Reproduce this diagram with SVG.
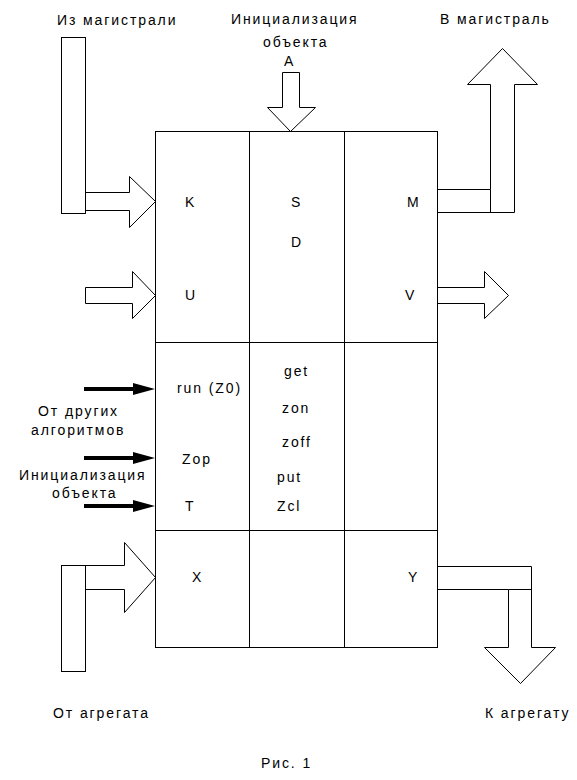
<svg xmlns="http://www.w3.org/2000/svg" width="577" height="780" viewBox="0 0 577 780">
<style>
text{font-family:"Liberation Sans",Arial,sans-serif;font-size:14px;letter-spacing:1.9px;fill:#000}
.ln{fill:none;stroke:#000;stroke-width:1}
.ar{fill:none;stroke:#000;stroke-width:1}
.bk{fill:#000;stroke:none}
</style>
<rect width="577" height="780" fill="#fff"/>
<g id="block">
<rect class="ln" x="155.5" y="131.5" width="282" height="516"/>
<path class="ln" d="M249.5,131.5V647.5M344.5,131.5V647.5M155.5,342.5H437.5M155.5,530.5H437.5"/>
</g>
<g id="cell-labels">
<text x="185" y="207">K</text>
<text x="291" y="207">S</text>
<text x="407" y="207">M</text>
<text x="291" y="247">D</text>
<text x="185" y="300">U</text>
<text x="405" y="300">V</text>
<text x="177" y="393">run (Z0)</text>
<text x="182" y="464">Zop</text>
<text x="185" y="511">T</text>
<text x="284" y="376">get</text>
<text x="282" y="413">zon</text>
<text x="282" y="447">zoff</text>
<text x="277" y="482">put</text>
<text x="277" y="511">Zcl</text>
<text x="192" y="582">X</text>
<text x="408" y="582">Y</text>
</g>
<g id="connectors">
<rect class="ar" x="61.5" y="37.5" width="24" height="176"/>
<path class="ar" d="M85.5,192.5H129.5V176.5L155.5,201.5L129.5,227.5V210.5H85.5"/>
<path class="ar" d="M85.5,287.5H132.5V271.5L155.5,295.5L132.5,318.5V303.5H85.5Z"/>
<path class="ar" d="M437.5,287.5H484.5V271.5L508.5,295.5L484.5,318.5V303.5H437.5"/>
<path class="ar" d="M282.5,72.5H299.5V107.5H315.5L290.5,131.5L267.5,107.5H282.5Z"/>
<path class="ar" d="M437.5,189.5H490.5V84.5H467.5L502.5,48.5L537.5,84.5H514.5V212.5H437.5"/>
<path class="ln" d="M490.5,189.5V212.5"/>
<rect class="ar" x="61.5" y="565.5" width="24" height="106"/>
<path class="ar" d="M85.5,565.5H124.5V542.5L155.5,577.5L124.5,612.5V589.5H85.5"/>
<path class="ar" d="M437.5,566.5H531.5V647.5H555.5L520.5,683.5L484.5,647.5H508.5V589.5H437.5"/>
<path class="ln" d="M508.5,589.5H531.5"/>
<path class="bk" d="M84,387H133V383L155,389L133,395V391H84Z"/>
<path class="bk" d="M84,456H133V452L155,458L133,464V460H84Z"/>
<path class="bk" d="M84,504H133V500L155,506L133,512V508H84Z"/>
</g>
<g id="outer-labels">
<text x="57" y="25">Из магистрали</text>
<text x="231" y="24">Инициализация</text>
<text x="263" y="47">объекта</text>
<text x="284" y="66">A</text>
<text x="440" y="24">В магистраль</text>
<text x="38" y="416">От других</text>
<text x="31" y="435">алгоритмов</text>
<text x="19" y="480">Инициализация</text>
<text x="52" y="498">объекта</text>
<text x="53" y="718">От агрегата</text>
<text x="485" y="718">К агрегату</text>
<text x="261" y="768">Рис. 1</text>
</g>
</svg>
